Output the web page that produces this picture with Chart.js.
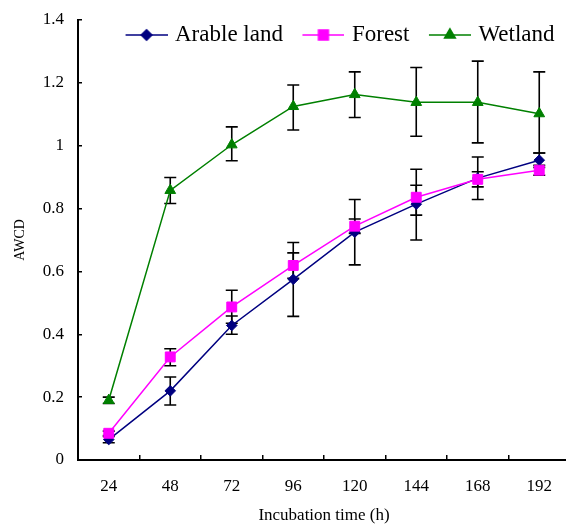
<!DOCTYPE html>
<html>
<head>
<meta charset="utf-8">
<script src="https://cdn.jsdelivr.net/npm/chart.js@4.4.0/dist/chart.umd.min.js"></script>
<style>
    html, body { margin: 0; padding: 0; background: #fff; overflow: hidden; }
</style>
</head>
<body>
<canvas id="awcdChart" width="580" height="530"></canvas>
<script>
// Data
const hours = ['24', '48', '72', '96', '120', '144', '168', '192'];
const yTicks = [0, 0.2, 0.4, 0.6, 0.8, 1, 1.2, 1.4];

const arable     = [0.065, 0.220, 0.428, 0.575, 0.725, 0.814, 0.897, 0.954];
const arableLow  = [0.055, 0.175, 0.400, 0.457, 0.621, 0.700, 0.829, 0.931];
const arableHigh = [0.075, 0.264, 0.458, 0.692, 0.829, 0.925, 0.964, 0.977];

const forest     = [0.085, 0.328, 0.487, 0.619, 0.744, 0.836, 0.893, 0.922];
const forestLow  = [0.078, 0.300, 0.435, 0.578, 0.721, 0.779, 0.869, 0.906];
const forestHigh = [0.092, 0.354, 0.540, 0.659, 0.767, 0.874, 0.917, 0.938];

const wetland     = [0.190, 0.858, 1.003, 1.125, 1.163, 1.138, 1.138, 1.102];
const wetlandLow  = [0.180, 0.816, 0.952, 1.050, 1.090, 1.030, 1.009, 0.977];
const wetlandHigh = [0.200, 0.899, 1.060, 1.193, 1.235, 1.249, 1.269, 1.235];

const serif = "'Liberation Serif', 'Times New Roman', serif";

// Legend sample: short line with the marker in the middle
const makeIcon = (color, style, radius) => {
    const c = document.createElement('canvas');
    c.width = 50;
    c.height = 16;
    const ctx = c.getContext('2d');
    ctx.strokeStyle = color;
    ctx.fillStyle = color;
    ctx.lineWidth = 1.5;
    ctx.beginPath();
    ctx.moveTo(8, 8);
    ctx.lineTo(50, 8);
    ctx.stroke();
    Chart.helpers.drawPoint(ctx, { pointStyle: style, radius: radius, borderWidth: 1 }, 29, 8);
    return c;
};

const series = [
    { label: 'Arable land', data: arable, low: arableLow, high: arableHigh, color: '#000080', style: 'rectRot', r: 5.3, order: 3 },
    { label: 'Forest', data: forest, low: forestLow, high: forestHigh, color: '#FF00FF', style: 'rect', r: 7, order: 2 },
    { label: 'Wetland', data: wetland, low: wetlandLow, high: wetlandHigh, color: '#008000', style: 'triangle', r: 6.2, order: 1 }
];
const icons = series.map(s => makeIcon(s.color, s.style, s.r));

// Error bars drawn from the low/high arrays through the y scale
const errorBars = {
    id: 'errorBars',
    beforeDatasetsDraw(chart) {
        const ctx = chart.ctx;
        const y = chart.scales.y;
        ctx.save();
        ctx.strokeStyle = '#000';
        ctx.lineWidth = 1.6;
        chart.data.datasets.forEach((ds, di) => {
            const meta = chart.getDatasetMeta(di);
            meta.data.forEach((pt, i) => {
                const yl = y.getPixelForValue(ds.errLow[i]);
                const yh = y.getPixelForValue(ds.errHigh[i]);
                ctx.beginPath();
                ctx.moveTo(pt.x, yl);
                ctx.lineTo(pt.x, yh);
                ctx.moveTo(pt.x - 6, yl);
                ctx.lineTo(pt.x + 6, yl);
                ctx.moveTo(pt.x - 6, yh);
                ctx.lineTo(pt.x + 6, yh);
                ctx.stroke();
            });
        });
        ctx.restore();
    }
};

// Legend sits over the top of the plot (like the Excel original):
// it only reserves a thin strip in the layout, then its box is grown so it is not clipped
const legendOverlay = {
    id: 'legendOverlay',
    afterLayout(chart) {
        const lg = chart.legend;
        lg.height = 50;
        lg.bottom = lg.top + 50;
    }
};

const chart = new Chart(document.getElementById('awcdChart'), {
    type: 'line',
    data: {
        labels: hours,
        datasets: series.map(s => ({
            label: s.label,
            data: s.data,
            errLow: s.low,
            errHigh: s.high,
            borderColor: s.color,
            backgroundColor: s.color,
            borderWidth: 1.5,
            pointStyle: s.style,
            pointRadius: s.r,
            pointHoverRadius: s.r,
            pointBackgroundColor: s.color,
            pointBorderColor: s.color,
            pointBorderWidth: 1,
            tension: 0,
            fill: false,
            order: s.order
        }))
    },
    options: {
        responsive: false,
        animation: false,
        layout: { padding: { top: 8, right: 10, bottom: 0, left: 0 } },
        plugins: {
            tooltip: { enabled: false },
            legend: {
                position: 'top',
                align: 'end',
                fullSize: false,
                maxHeight: 12,
                labels: {
                    usePointStyle: true,
                    pointStyleWidth: 42,
                    padding: 15.5,
                    color: '#000',
                    font: { family: serif, size: 23 },
                    sort: (a, b) => a.datasetIndex - b.datasetIndex,
                    generateLabels: (c) => Chart.defaults.plugins.legend.labels.generateLabels(c)
                        .map(l => ({ ...l, pointStyle: icons[l.datasetIndex] }))
                }
            }
        },
        scales: {
            x: {
                type: 'category',
                offset: true,
                afterFit: s => { s.height = 70; s.paddingLeft = 0; s.paddingRight = 0; },
                grid: { offset: true, drawOnChartArea: false, tickLength: -5, color: '#000', lineWidth: 1.5 },
                border: { color: '#000', width: 2 },
                ticks: { color: '#000', padding: 21, font: { family: serif, size: 17 }, maxRotation: 0 },
                title: { display: true, text: 'Incubation time (h)', color: '#000', font: { family: serif, size: 17 }, padding: { top: 0, bottom: 4 } }
            },
            y: {
                min: 0,
                max: 1.4,
                afterFit: s => { s.width = 78; s.paddingTop = 0; s.paddingBottom = 0; },
                afterBuildTicks: s => { s.ticks = yTicks.map(v => ({ value: v })); },
                grid: { drawOnChartArea: false, tickLength: -4, color: '#000', lineWidth: 1.5 },
                border: { color: '#000', width: 2 },
                ticks: { color: '#000', padding: 18, font: { family: serif, size: 17 }, callback: v => String(v) },
                title: { display: true, text: 'AWCD', color: '#000', font: { family: serif, size: 14 }, padding: { top: 12, bottom: 0 } }
            }
        }
    },
    plugins: [errorBars, legendOverlay]
});
</script>
</body>
</html>
